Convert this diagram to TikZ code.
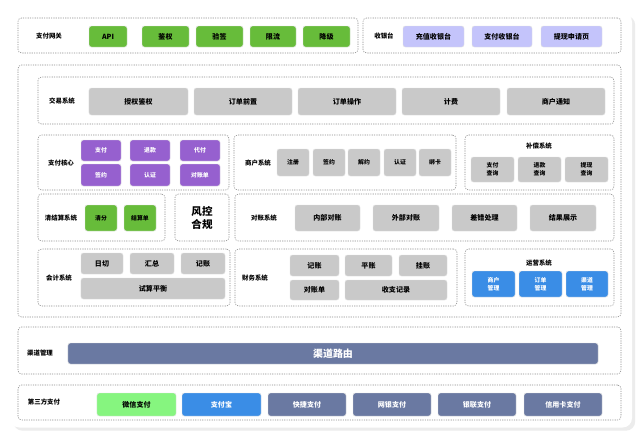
\documentclass[tikz,border=0pt]{standalone}
\usepackage{fontspec}
\setmainfont{Noto Sans CJK SC}
\usetikzlibrary{positioning, shadows}

\definecolor{gwgreen}{HTML}{67BC3A}
\definecolor{lav}{HTML}{C4C4FB}
\definecolor{greybox}{HTML}{C9C9C9}
\definecolor{purp}{HTML}{9660CF}
\definecolor{opblue}{HTML}{3A8DE6}
\definecolor{slate}{HTML}{6A79A2}
\definecolor{wxgreen}{HTML}{86F57F}

% block: name, style, x1, y1, x2, y2, text (pixel coordinates)
\newcommand{\blk}[7]{\node[#2, minimum width={(#5-#3)*0.3mm}, minimum height={(#6-#4)*0.3mm}] (#1) at ({(#3+#5)/2},{(#4+#6)/2}) {#7};}

\begin{document}
\begin{tikzpicture}[
    x=0.03cm, y=-0.03cm,
    group/.style={draw=black!45, dash pattern=on 1pt off 1pt, rounded corners=3pt, inner sep=0pt, line width=0.5pt},
    item/.style={rounded corners=2pt, inner sep=0pt, align=center, font=\fontsize{6}{7}\selectfont\bfseries, draw=black!12, line width=0.4pt},
    gw/.style={item, fill=gwgreen},
    tinytext/.style={font=\fontsize{5}{6}\selectfont\bfseries},
    cash/.style={item, fill=lav},
    grey/.style={item, fill=greybox},
    purple/.style={item, fill=purp, text=white, tinytext},
    small/.style={item, fill=greybox, font=\fontsize{5}{6.5}\selectfont\bfseries},
    ops/.style={item, fill=opblue, text=white, font=\fontsize{5}{6.5}\selectfont\bfseries},
    chan/.style={item, fill=slate, text=white},
    label/.style={font=\fontsize{5.5}{6.5}\selectfont\bfseries, inner sep=0pt}
]
    \useasboundingbox (0,0) rectangle (640,437);
    \fill[white] (0,0) rectangle (640,437);

    % card
    \node[fill=white, rounded corners=8pt, drop shadow={opacity=0.15}, minimum width={622*0.3mm}, minimum height={415*0.3mm}, inner sep=0pt] (card) at (321,220) {};

    % --- gateway ---
    \blk{gwgrp}{group}{18}{18}{358}{53}{}
    \node[label] (gwlbl) at (49,36) {支付网关};
    \blk{api}{gw}{89}{26}{127}{47}{API}
    \blk{auth}{gw}{142}{26}{189}{47}{鉴权}
    \blk{sign}{gw}{196}{26}{243}{47}{验签}
    \blk{limit}{gw}{250}{26}{296}{47}{限流}
    \blk{degr}{gw}{303}{26}{350}{47}{降级}

    % --- cashier ---
    \blk{cashgrp}{group}{363}{18}{621}{53}{}
    \node[label] (cashlbl) at (384,36) {收银台};
    \blk{recharge}{cash}{403}{26}{464}{47}{充值收银台}
    \blk{paycash}{cash}{472}{26}{532}{47}{支付收银台}
    \blk{withdraw}{cash}{541}{26}{602}{47}{提现申请页}

    % --- main ---
    \blk{maingrp}{group}{18}{65}{621}{317}{}

    % trade
    \blk{tradegrp}{group}{38}{77}{614}{124}{}
    \node[label] (tradelbl) at (62,101) {交易系统};
    \blk{tr1}{grey}{89}{88}{188}{115}{授权鉴权}
    \blk{tr2}{grey}{194}{88}{292}{115}{订单前置}
    \blk{tr3}{grey}{298}{88}{396}{115}{订单操作}
    \blk{tr4}{grey}{402}{88}{500}{115}{计费}
    \blk{tr5}{grey}{507}{88}{605}{115}{商户通知}

    % pay core
    \blk{coregrp}{group}{38}{135}{229}{190}{}
    \node[label] (corelbl) at (61,163) {支付核心};
    \blk{c1}{purple}{81}{140}{121}{161}{支付}
    \blk{c2}{purple}{130}{140}{170}{161}{退款}
    \blk{c3}{purple}{180}{140}{220}{161}{代付}
    \blk{c4}{purple}{81}{164}{121}{186}{签约}
    \blk{c5}{purple}{130}{164}{170}{186}{认证}
    \blk{c6}{purple}{180}{164}{220}{186}{对账单}

    % merchant
    \blk{mergrp}{group}{234}{135}{456}{190}{}
    \node[label] (merlbl) at (258,163) {商户系统};
    \blk{m1}{small}{277}{149}{309}{176}{注册}
    \blk{m2}{small}{313}{149}{345}{176}{签约}
    \blk{m3}{small}{348}{149}{380}{176}{解约}
    \blk{m4}{small}{384}{149}{416}{176}{认证}
    \blk{m5}{small}{419}{149}{451}{176}{绑卡}

    % compensation
    \blk{compgrp}{group}{465}{135}{614}{190}{}
    \node[label] (complbl) at (539,146) {补偿系统};
    \blk{p1}{small}{471}{157}{514}{182}{支付\\查询}
    \blk{p2}{small}{518}{157}{561}{182}{退款\\查询}
    \blk{p3}{small}{565}{157}{608}{182}{提现\\查询}

    % clearing
    \blk{cleargrp}{group}{38}{194}{165}{241}{}
    \node[label] (clearlbl) at (61,218) {清结算系统};
    \blk{cl1}{gw, tinytext}{85}{205}{117}{231}{清分}
    \blk{cl2}{gw, tinytext}{124}{205}{156}{231}{结算单}

    % risk
    \blk{riskgrp}{group}{175}{194}{229}{241}{}
    \node[font=\fontsize{9}{11}\selectfont\bfseries, align=center, inner sep=0pt] (risk) at (202,218) {风控\\合规};

    % reconciliation
    \blk{recgrp}{group}{235}{194}{614}{241}{}
    \node[label] (reclbl) at (264,218) {对账系统};
    \blk{r1}{grey}{295}{205}{360}{231}{内部对账}
    \blk{r2}{grey}{373}{205}{439}{231}{外部对账}
    \blk{r3}{grey}{452}{205}{517}{231}{差错处理}
    \blk{r4}{grey}{530}{205}{596}{231}{结果展示}

    % accounting
    \blk{accgrp}{group}{38}{249}{230}{306}{}
    \node[label] (acclbl) at (59,278) {会计系统};
    \blk{a1}{grey}{81}{253}{123}{274}{日切}
    \blk{a2}{grey}{130}{253}{174}{274}{汇总}
    \blk{a3}{grey}{181}{253}{225}{274}{记账}
    \blk{a4}{grey}{81}{278}{225}{299}{试算平衡}

    % finance
    \blk{fingrp}{group}{235}{249}{457}{306}{}
    \node[label] (finlbl) at (255,278) {财务系统};
    \blk{f1}{grey}{290}{255}{339}{276}{记账}
    \blk{f2}{grey}{345}{255}{392}{276}{平账}
    \blk{f3}{grey}{399}{255}{447}{276}{挂账}
    \blk{f4}{grey}{290}{280}{339}{300}{对账单}
    \blk{f5}{grey}{345}{280}{447}{300}{收支记录}

    % operations
    \blk{opgrp}{group}{465}{249}{614}{306}{}
    \node[label] (oplbl) at (539,263) {运营系统};
    \blk{o1}{ops}{472}{271}{515}{297}{商户\\管理}
    \blk{o2}{ops}{519}{271}{562}{297}{订单\\管理}
    \blk{o3}{ops}{566}{271}{608}{297}{渠道\\管理}

    % --- channel ---
    \blk{changrp}{group}{18}{327}{621}{374}{}
    \node[label] (chanlbl) at (40,353) {渠道管理};
    \blk{route}{chan, font=\fontsize{8.5}{10}\selectfont\bfseries}{68}{343}{598}{364}{渠道路由}

    % --- third party ---
    \blk{thirdgrp}{group}{18}{385}{621}{420}{}
    \node[label] (thirdlbl) at (44,402) {第三方支付};
    \blk{t1}{item, fill=wxgreen}{97}{393}{176}{416}{微信支付}
    \blk{t2}{item, fill=opblue, text=white}{182}{393}{261}{416}{支付宝}
    \blk{t3}{chan}{268}{393}{346}{416}{快捷支付}
    \blk{t4}{chan}{353}{393}{431}{416}{网银支付}
    \blk{t5}{chan}{438}{393}{516}{416}{银联支付}
    \blk{t6}{chan}{524}{393}{602}{416}{信用卡支付}
\end{tikzpicture}
\end{document}
